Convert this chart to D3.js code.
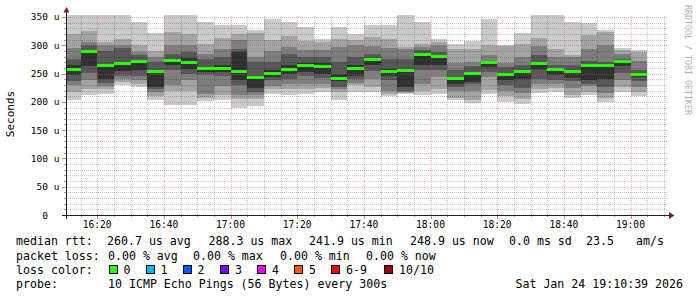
<!DOCTYPE html>
<html><head><meta charset="utf-8">
<script src="https://cdn.jsdelivr.net/npm/d3@7"></script>
<style>
html,body{margin:0;padding:0;background:#fff;}
svg{display:block;}
text{font-family:"DejaVu Sans Mono",monospace;fill:#000;}
</style></head><body>
<svg id="c" width="697" height="297"></svg>
<script>
// ---- data (microseconds), one entry per 5-minute step (step end time) ----
const stepEnds = ["16:15","16:20","16:25","16:30","16:35","16:40","16:45","16:50","16:55","17:00",
  "17:05","17:10","17:15","17:20","17:25","17:30","17:35","17:40","17:45","17:50",
  "17:55","18:00","18:05","18:10","18:15","18:20","18:25","18:30","18:35","18:40",
  "18:45","18:50","18:55","19:00","19:05"];
// sorted ping results 1 (fastest) .. 10 (slowest)
const ping1  = [203,211.5,213,230,226,203,195,194,201,204,189,192,214,212,214,218,204,218,217,210,213,212,214,204,198,213,199,196,215,217,206,212,199,217,210];
const ping2  = [218,223,222,235,232,210,220,220,207,212,205,204.5,222,222,223,225,217,229,227,213,216,220,222,207,203,221,210,205,222,225,212,217,207,226,218];
const ping3  = [230,238,228,240,238,217,230,238,214,228,212,212,228,232,232,232,222,234,240,219,218,232,244,220,220,244,220,215,232,232,225,228,215,238,226];
const ping4  = [237,251.5,234,246,246,222,256,250,248,245,230,217,238,241,246,242,226,240,255,238,220,256,256,226,232,253,229,225,240,238,237,232,226,251,236];
const ping5  = [248,263,240,254,256,226,265,258,252,252,238,224.5,244,250,252,250,236,246,265,246,226,265,265,232,235,262,238,240,258,247,243,238,241,263,244];
const ping6  = [265,291,266,270,273,256,274,278,262,266,288,245,256,265,268,268,250,265,276,258,258,286,282,244,252,272,250,256,270,259,256,266,267,274,251];
const ping7  = [276,300,290,296,282,270,285,288,276,279,294,270,270,285,279,279,270,279,285,276,276,291,288,257,264,273,262,265,282,266,265,273,270,276,256];
const ping8  = [295,306,300,300,288,280,301,300,285,294,309,279,290,297,291,291,297,300,298,295,293,297,300,268,270,282,268,279,298,279,279,294,300,284,272];
const ping9  = [320,325,306,311.5,301,289,323,320,303,313,320,322,309,316,307,306,311,310,315,311,297,303,306,294,294,300,298,303,313,294,283,319,323,292,288];
const ping10 = [353,353,353,353,341,322,353,353,342,336,336,327,346,342,332,311,332,320,336,336,353,342,311,303,307,346,300,321,353,353,341,340,327,296,292];
const median = [257,289.5,265,268,271.5,254,273,269.5,259.5,259,254.5,242.6,250.6,257.5,264.5,263,242,258.6,275,254,256,284,280,242,250.6,270,248,254.5,268,257,254,265,265,272,249];
const lossPct = [0,0,0,0,0,0,0,0,0,0,0,0,0,0,0,0,0,0,0,0,0,0,0,0,0,0,0,0,0,0,0,0,0,0,0];

const yTickValues = [0,50,100,150,200,250,300,350];
const xMajorLabels = ["16:20","16:40","17:00","17:20","17:40","18:00","18:20","18:40","19:00"];
const smokeGreys = ["#cacaca","#a4a4a4","#7e7e7e","#585858","#323232"];
const lossLabels = ["0","1","2","3","4","5","6-9","10/10"];
const lossColors = ["#26ff00","#00b8ff","#0059ff","#7e00ff","#ff00ff","#ff5500","#ff0000","#a10000"];
const lossSwatchX = [108.5,145.5,182.5,220,257,294,331,384];

const legendLine1 = [["median rtt:",16],["260.7 us avg",107],["288.3 us max",208.5],["241.9 us min",309],["248.9 us now",410],["0.0 ms sd",509],["23.5",586],["am/s",636]];
const legendLine2 = [["packet loss:",16],["0.00 % avg",108],["0.00 % max",193],["0.00 % min",280],["0.00 % now",366]];
const probeText = "10 ICMP Echo Pings (56 Bytes) every 300s";
const stampText = "Sat Jan 24 19:10:39 2026";

// ---- helpers ----
const T = s => { const [h,m,sec] = s.split(":").map(Number); return new Date(Date.UTC(2026,0,24,h,m,sec||0)); };
const tStart = T("16:10:39"), tEnd = T("19:10:39");
const STEP = 300000;

const svg = d3.select("#c");
const x = d3.scaleUtc().domain([tStart,tEnd]).range([66,666]);
const y = d3.scaleLinear().domain([0,353.5]).range([215,15]);

const pings = [ping1,ping2,ping3,ping4,ping5,ping6,ping7,ping8,ping9,ping10];
const cols = stepEnds.map((s,i)=>{
  const e = T(s); const b = new Date(Math.max(+tStart, +e-STEP));
  return {b,e,p:pings.map(a=>a[i]),med:median[i],loss:lossPct[i]};
});

// ---- smoke ----
const gSmoke = svg.append("g").attr("shape-rendering","crispEdges");
for (let k=0;k<5;k++){
  gSmoke.selectAll(null).data(cols).enter().append("rect")
    .attr("x",d=>Math.round(x(d.b)))
    .attr("width",d=>Math.round(x(d.e))-Math.round(x(d.b)))
    .attr("y",d=>Math.round(y(Math.min(d.p[9-k],353.5))))
    .attr("height",d=>Math.round(y(d.p[k]))-Math.round(y(Math.min(d.p[9-k],353.5))))
    .attr("fill",smokeGreys[k]);
}

// ---- grid ----
const minorCol = "rgba(0,0,0,0.22)", majorCol = "rgba(222,80,80,0.45)";
const gGrid = svg.append("g").attr("shape-rendering","crispEdges");
function gridLines(data, horiz, col){
  gGrid.selectAll(null).data(data).enter().append("line")
    .attr("x1",d=>horiz?66:Math.round(x(d))+0.5)
    .attr("x2",d=>horiz?668:Math.round(x(d))+0.5)
    .attr("y1",d=>horiz?Math.round(y(d))+0.5:215)
    .attr("y2",d=>horiz?Math.round(y(d))+0.5:15)
    .attr("stroke",col).attr("stroke-width",1).attr("stroke-dasharray","1 1");
}
const yMinor = d3.range(10,351,10).filter(v=>v%50!==0);
const xMinor = x.ticks(d3.utcMinute.every(5)).filter(t=>t.getUTCMinutes()%20!==0);
const xMajor = x.ticks(d3.utcMinute.every(20));
gridLines(yMinor,true,minorCol);
gridLines(xMinor,false,minorCol);
gridLines(xMajor,false,majorCol);
gridLines(yTickValues.filter(v=>v>0),true,majorCol);

// median (loss coloured)
const gMed = svg.append("g").attr("shape-rendering","crispEdges");
gMed.selectAll(null).data(cols).enter().append("rect")
  .attr("x",d=>Math.round(x(d.b)))
  .attr("width",d=>Math.round(x(d.e))-Math.round(x(d.b)))
  .attr("y",d=>Math.round(y(d.med)-1.5))
  .attr("height",3)
  .attr("fill",d=>lossColors[Math.min(7,Math.round(d.loss/10))]);

// ticks
const gTick = svg.append("g").attr("shape-rendering","crispEdges");
gTick.selectAll(null).data(yMinor).enter().append("line")
  .attr("x1",64).attr("x2",66).attr("y1",d=>Math.round(y(d))+0.5).attr("y2",d=>Math.round(y(d))+0.5)
  .attr("stroke","#a0a0a0");
gTick.selectAll(null).data(yTickValues).enter().append("line")
  .attr("x1",62).attr("x2",66).attr("y1",d=>Math.round(y(d))+0.5).attr("y2",d=>Math.round(y(d))+0.5)
  .attr("stroke","#d08080");
gTick.selectAll(null).data(xMinor).enter().append("line")
  .attr("y1",215).attr("y2",217).attr("x1",d=>Math.round(x(d))+0.5).attr("x2",d=>Math.round(x(d))+0.5)
  .attr("stroke","#a0a0a0");
gTick.selectAll(null).data(xMajor).enter().append("line")
  .attr("y1",215).attr("y2",219).attr("x1",d=>Math.round(x(d))+0.5).attr("x2",d=>Math.round(x(d))+0.5)
  .attr("stroke","#d08080");

// axes
gTick.append("line").attr("x1",62).attr("x2",669).attr("y1",215.5).attr("y2",215.5).attr("stroke","#1f1f1f");
gTick.append("line").attr("x1",66.5).attr("x2",66.5).attr("y1",219).attr("y2",12).attr("stroke","#1f1f1f");
svg.append("path").attr("d","M63.5,12.5L69.5,12.5L66.5,7Z").attr("fill","#7f1f1f");
svg.append("path").attr("d","M669,212L669,219L674.5,215.5Z").attr("fill","#7f1f1f");

// axis labels
const gY = svg.append("g").style("font-size","9.5px");
gY.selectAll(null).data(yTickValues).enter().append("text")
  .attr("x",48).attr("y",d=>y(d)+3.5).attr("text-anchor","end").text(d=>d3.format("d")(d));
gY.selectAll(null).data(yTickValues.filter(v=>v>0)).enter().append("text")
  .attr("x",53.8).attr("y",d=>y(d)+3.5).text("u");
const gX = svg.append("g").style("font-size","9.6px");
gX.selectAll(null).data(xMajor).enter().append("text")
  .attr("x",d=>x(d)).attr("y",228).attr("text-anchor","middle").text((d,i)=>xMajorLabels[i]);

svg.append("text").attr("transform","translate(14,114) rotate(-90)").attr("text-anchor","middle")
  .style("font-size","11px").text("Seconds");
svg.append("text").attr("transform","translate(684.5,5) rotate(90)").attr("text-anchor","start")
  .style("font-size","8.3px").style("fill","#b0b0b0").text("RRDTOOL / TOBI OETIKER");

// legend
const gL = svg.append("g").style("font-size","11.6px").style("white-space","pre");
gL.selectAll(null).data(legendLine1).enter().append("text").attr("x",d=>d[1]).attr("y",245).text(d=>d[0]);
gL.selectAll(null).data(legendLine2).enter().append("text").attr("x",d=>d[1]).attr("y",259.5).text(d=>d[0]);
gL.append("text").attr("x",16).attr("y",273.5).text("loss color:");
const sw = gL.selectAll(null).data(lossLabels).enter().append("g")
  .attr("transform",(d,i)=>`translate(${lossSwatchX[i]},0)`);
sw.append("rect").attr("x",0.5).attr("y",265.5).attr("width",8).attr("height",8)
  .attr("fill",(d,i)=>lossColors[i]).attr("stroke","#000").attr("shape-rendering","crispEdges");
sw.append("text").attr("x",15).attr("y",273.5).text(d=>d);
gL.append("text").attr("x",16).attr("y",288).text("probe:");
gL.append("text").attr("x",108).attr("y",288).text(probeText);
gL.append("text").attr("x",683).attr("y",288).attr("text-anchor","end").text(stampText);
</script>
</body></html>
